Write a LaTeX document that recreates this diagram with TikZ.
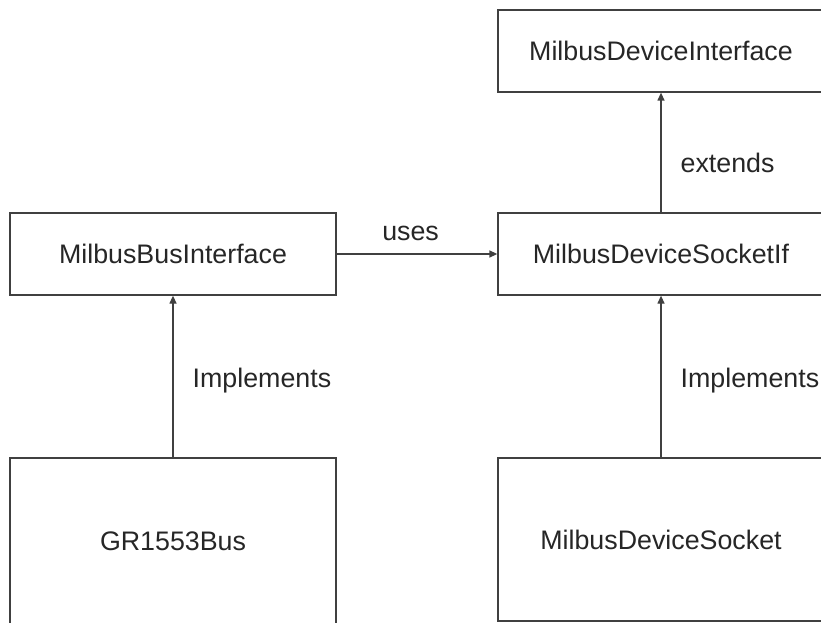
\documentclass[tikz,border=0pt]{standalone}
\usepackage{fontspec}
\setmainfont{Liberation Sans}
\usetikzlibrary{arrows.meta}

\tikzset{
    classbox/.style={draw=black!75, line width=1.3pt, minimum width=326pt, inner sep=0pt,
        text=black!85, font=\fontsize{26.8}{32}\selectfont},
    rel/.style={-{Triangle[length=8pt,width=7pt]}, draw=black!75, line width=1.3pt},
    lbl/.style={inner sep=0pt, text=black!85, font=\fontsize{26.8}{32}\selectfont}
}

\begin{document}
\begin{tikzpicture}[x=1pt, y=-1pt]
    \useasboundingbox (0,0) rectangle (821,623);

    % Interfaces
    \node[classbox, minimum height=82pt] (devif) at (661,51) {MilbusDeviceInterface};
    \node[classbox, minimum height=82pt] (busif) at (173,254) {MilbusBusInterface};
    \node[classbox, minimum height=82pt] (sockif) at (661,254) {MilbusDeviceSocketIf};

    % Implementations
    \node[classbox, minimum height=166pt] (gr) at (173,541) {GR1553Bus};
    \node[classbox, minimum height=163pt] (sock) at (661,539.5) {MilbusDeviceSocket};

    % Relations
    \draw[rel] (busif.east) -- node[lbl, pos=0.46, above=13pt] {uses} (sockif.west);
    \draw[rel] (sockif.north) -- node[lbl, pos=0.41, anchor=west, xshift=19pt] {extends} (devif.south);
    \draw[rel] (gr.north) -- node[lbl, pos=0.475, anchor=west, xshift=19pt] {Implements} (busif.south);
    \draw[rel] (sock.north) -- node[lbl, pos=0.475, anchor=west, xshift=19pt] {Implements} (sockif.south);
\end{tikzpicture}
\end{document}
